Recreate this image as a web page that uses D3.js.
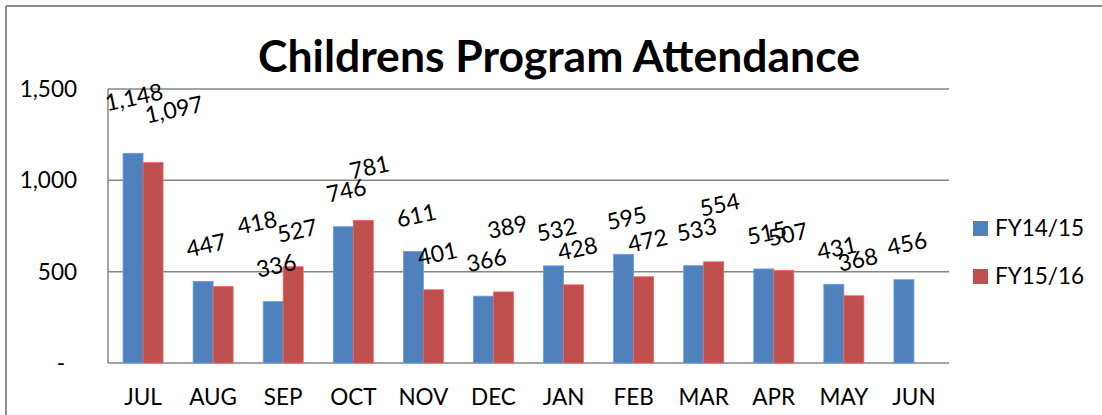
<!DOCTYPE html>
<html>
<head>
<meta charset="utf-8">
<script src="https://cdn.jsdelivr.net/npm/d3@7"></script>
<style>
  html, body { margin: 0; padding: 0; background: #fff; }
  svg { display: block; font-family: Lato, "Open Sans", sans-serif; }
</style>
</head>
<body>
<svg id="chart" width="1102" height="415"></svg>
<script>
// ---- data ----
const months = ["JUL","AUG","SEP","OCT","NOV","DEC","JAN","FEB","MAR","APR","MAY","JUN"];
const seriesNames = ["FY14/15","FY15/16"];
const fy1415 = [1148,447,336,746,611,366,532,595,533,515,431,456];
const fy1516 = [1097,418,527,781,401,389,428,472,554,507,368,null];
const yTicks = [0,500,1000,1500];
const yTickLabels = ["-","500","1,000","1,500"];
const colors = ["#4F81BD","#C0504D"];
const title = "Childrens Program Attendance";
// manual label nudges (Excel collision moves) : [series, monthIndex, dx, dy]
const labelNudges = [[0,0,-2,-20],[1,0,17,-17],[1,1,30,-28],[1,3,2,-17],[1,5,0,-29],[1,8,2,-21]];

const svg = d3.select("#chart");
const W = 1102, H = 415;
const plot = {left:108, right:949, top:89, bottom:363};

// outer frame
svg.append("line").attr("x1",6).attr("x2",W).attr("y1",6).attr("y2",6)
  .attr("stroke","#8c8c8c").attr("stroke-width",2);
svg.append("line").attr("x1",6).attr("x2",6).attr("y1",6).attr("y2",H)
  .attr("stroke","#8c8c8c").attr("stroke-width",2);

const x0 = d3.scaleBand().domain(months).range([plot.left, plot.right]).padding(0);
const x1 = d3.scaleBand().domain(seriesNames)
  .range([x0.bandwidth()/2 - 20, x0.bandwidth()/2 + 20]).padding(0);
const y = d3.scaleLinear().domain([0,1500]).range([plot.bottom, plot.top]);

// gridlines
svg.append("g").selectAll("line").data(yTicks).join("line")
  .attr("x1", plot.left).attr("x2", plot.right)
  .attr("y1", d => y(d)).attr("y2", d => y(d))
  .attr("stroke","#868686").attr("stroke-width",1.5);
// left axis line
svg.append("line").attr("x1",plot.left).attr("x2",plot.left)
  .attr("y1",plot.top).attr("y2",plot.bottom)
  .attr("stroke","#868686").attr("stroke-width",1.5);

// y tick labels
svg.append("g").selectAll("text").data(yTicks).join("text")
  .attr("x", (d) => d === 0 ? 61 : 77)
  .attr("y", d => y(d))
  .attr("dy","0.35em")
  .attr("text-anchor", d => d === 0 ? "middle" : "end")
  .attr("font-size", 22.5).attr("fill","#000")
  .text((d,i) => yTickLabels[i]);

// x labels
svg.append("g").selectAll("text").data(months).join("text")
  .attr("x", d => x0(d) + x0.bandwidth()/2)
  .attr("y", plot.bottom + 34)
  .attr("dy","0.35em")
  .attr("text-anchor","middle")
  .attr("font-size", 22.5).attr("fill","#000")
  .text(d => d);

// bars
const allSeries = [fy1415, fy1516];
const flat = [];
allSeries.forEach((arr, s) => arr.forEach((v, i) => { if (v != null) flat.push({s, i, v}); }));

svg.append("g").selectAll("rect").data(flat).join("rect")
  .attr("x", d => x0(months[d.i]) + x1(seriesNames[d.s]))
  .attr("y", d => y(d.v))
  .attr("width", x1.bandwidth())
  .attr("height", d => y(0) - y(d.v))
  .attr("fill", d => colors[d.s])
  .attr("stroke", d => d3.color(colors[d.s]).brighter(0.6))
  .attr("stroke-width", 0.8);

// data labels
const fmt = d3.format(",");
svg.append("g").selectAll("text").data(flat).join("text")
  .attr("transform", d => {
    const n = labelNudges.find(a => a[0]===d.s && a[1]===d.i);
    const dx = n ? n[2] : 0, dy = n ? n[3] : 0;
    const cx = x0(months[d.i]) + x1(seriesNames[d.s]) + x1.bandwidth()/2 + (d.s===0?3:4) + dx;
    const cy = y(d.v) - 36 + dy;
    return `translate(${cx},${cy}) rotate(-12)`;
  })
  .attr("dy","0.35em")
  .attr("text-anchor","middle")
  .attr("font-size", 23).attr("fill","#000")
  .text(d => fmt(d.v));

// title
const t = svg.append("text")
  .attr("x", 559).attr("y", 72)
  .attr("text-anchor","middle")
  .attr("font-weight","bold")
  .attr("font-size", 40)
  .attr("fill","#000")
  .text(title);
const tw = t.node().getComputedTextLength();
t.attr("font-size", 40 * 602 / tw);

// legend
const lg = svg.append("g");
seriesNames.forEach((name, i) => {
  lg.append("rect").attr("x",973).attr("y",221 + i*48).attr("width",15).attr("height",15)
    .attr("fill",colors[i]);
  lg.append("text").attr("x",995).attr("y",228.5 + i*48).attr("dy","0.35em")
    .attr("font-size",22.5).attr("fill","#000").text(name);
});
</script>
</body>
</html>
